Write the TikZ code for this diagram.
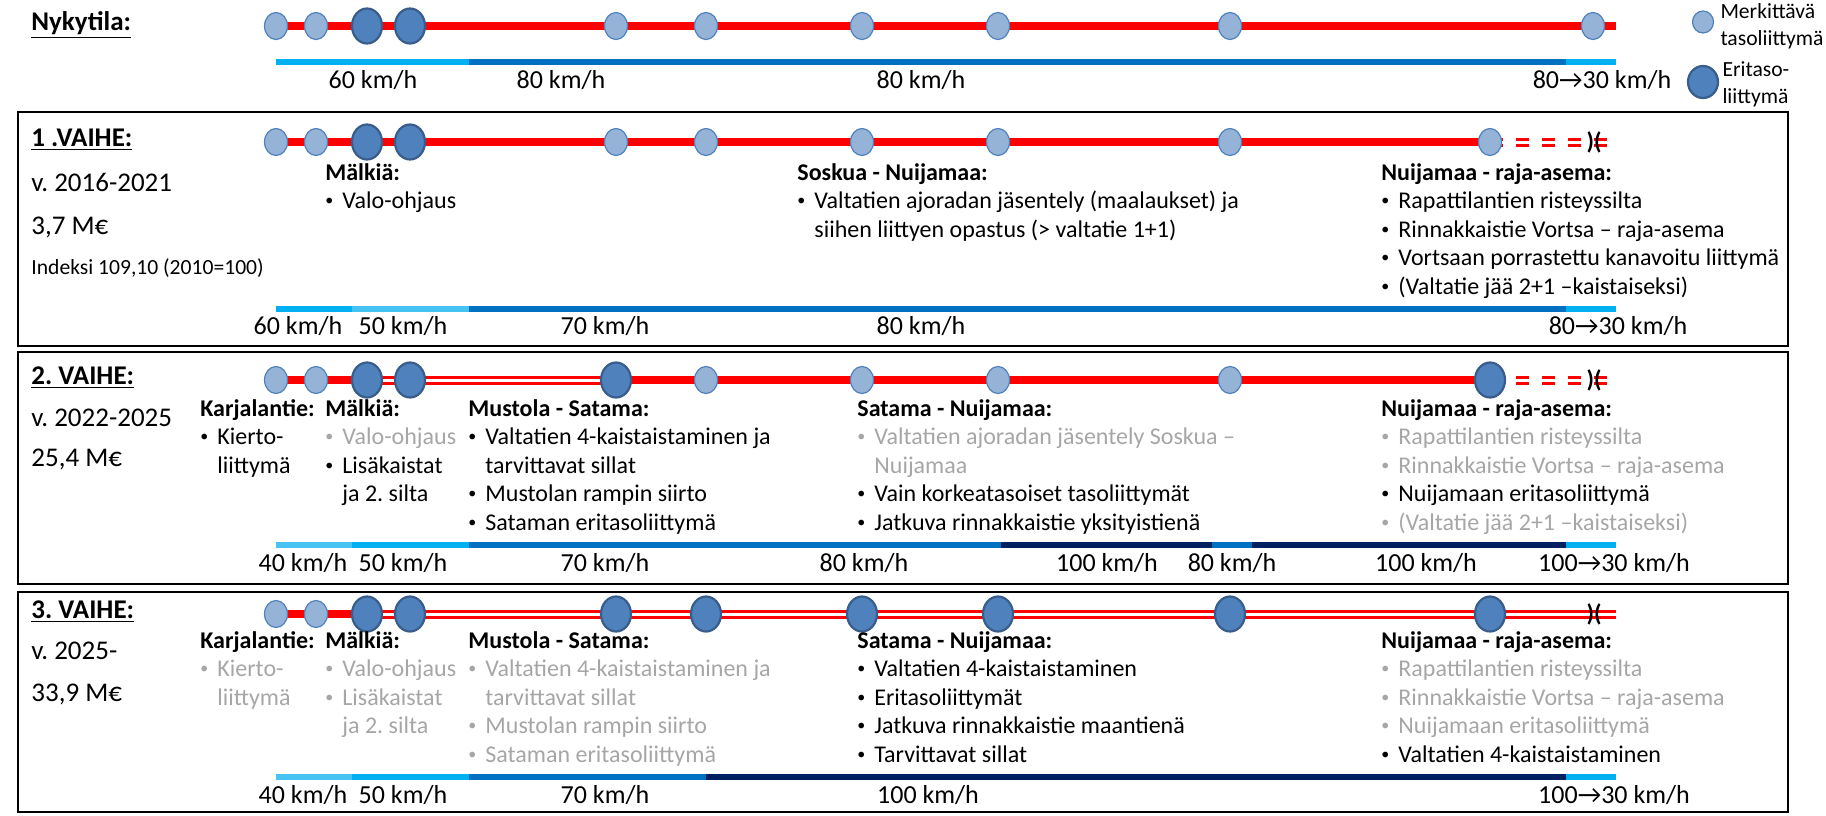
\documentclass[tikz,border=0pt]{standalone}
\usepackage{fontspec}
\setmainfont{Carlito}
\usetikzlibrary{shapes.geometric, positioning, backgrounds}
\frenchspacing

\definecolor{roadred}{HTML}{FF0000}
\definecolor{skyblue}{HTML}{00B0F0}
\definecolor{paleblue}{HTML}{45C3F2}
\definecolor{midblue}{HTML}{0070C0}
\definecolor{navyblue}{HTML}{002060}
\definecolor{jctlight}{HTML}{95B3D7}
\definecolor{jctlightedge}{HTML}{4F81BD}
\definecolor{jctdark}{HTML}{4F81BD}
\definecolor{jctdarkedge}{HTML}{385D8A}
\definecolor{txtgray}{HTML}{A6A6A6}

\newcommand{\bu}{\makebox[8.5pt][l]{\raisebox{0.12em}{\fontsize{8}{8}\selectfont •}}}
\newcommand{\ind}{\hspace*{8.5pt}}
\newcommand{\pale}[1]{\textcolor{txtgray}{#1}}

\begin{document}
\begin{tikzpicture}[
    x=0.5pt, y=-0.5pt,
    tjct/.style={ellipse, draw=jctlightedge, fill=jctlight, line width=0.6pt, minimum width=11.5pt, minimum height=13.5pt, inner sep=0pt},
    ejct/.style={ellipse, draw=jctdarkedge, fill=jctdark, line width=1.1pt, minimum width=15pt, minimum height=17.5pt, inner sep=0pt},
    road/.style={roadred, line width=4pt},
    road2/.style={roadred, line width=1.5pt, double=white, double distance=1.5pt},
    road2d/.style={road2, dash pattern=on 6.5pt off 6.5pt},
    speed/.style={line width=3.25pt},
    kmh/.style={anchor=mid, inner sep=0pt, font=\fontsize{13}{15}\selectfont},
    phasetitle/.style={anchor=mid west, inner sep=0pt, font=\bfseries\fontsize{13.5}{15}\selectfont},
    costtxt/.style={anchor=mid west, inner sep=0pt, font=\fontsize{13.5}{15}\selectfont},
    block/.style={anchor=north west, align=left, inner sep=0pt, font=\fontsize{12}{14.25}\selectfont},
    legtxt/.style={align=left, inner sep=0pt, font=\fontsize{10.8}{13.5}\selectfont},
    bridgesym/.style={inner sep=0pt, font=\bfseries\fontsize{12}{12}\selectfont},
    phasebox/.style={draw, line width=1.2pt}
]
    \useasboundingbox (0,0) rectangle (1826,815);

    % Legend
    \node[tjct, minimum width=10.5pt, minimum height=11pt] (legt) at (1703,22) {};
    \node[legtxt, right=3pt of legt, yshift=-2pt] (legttxt) {Merkittävä\\tasoliittymä};
    \node[ejct, minimum width=15pt, minimum height=16pt] (lege) at (1703,82) {};
    \node[legtxt, right=1.5pt of lege, yshift=-1pt] (legetxt) {Eritaso-\\liittymä};

    % Nykytila
    \node[phasetitle] (nyktitle) at (31,26) {\underline{Nykytila:}};
    \node[tjct] (nyk1) at (276,26) {};
    \node[tjct] (nyk2) at (316,26) {};
    \node[ejct] (nyk3) at (367,26) {};
    \node[ejct] (nyk4) at (410,26) {};
    \node[tjct] (nyk5) at (616,26) {};
    \node[tjct] (nyk6) at (706,26) {};
    \node[tjct] (nyk7) at (862,26) {};
    \node[tjct] (nyk8) at (998,26) {};
    \node[tjct] (nyk9) at (1230,26) {};
    \node[tjct] (nyk10) at (1593,26) {};
    \coordinate (nykend) at (1616,26);
    \begin{scope}[on background layer]
        \draw[road] (nyk1.center) -- (nykend);
    \end{scope}
    \draw[speed, skyblue] (276,62) -- (469,62);
    \draw[speed, midblue] (469,62) -- (706,62);
    \draw[speed, midblue] (706,62) -- (1566,62);
    \draw[speed, skyblue] (1566,62) -- (1616,62);
    \node[kmh] (nykv1) at (373,84) {60 km/h};
    \node[kmh] (nykv2) at (561,84) {80 km/h};
    \node[kmh] (nykv3) at (921,84) {80 km/h};
    \node[kmh] (nykv4) at (1602,84) {80→30 km/h};

    % 1. vaihe
    \draw[phasebox] (18,112) rectangle (1788,346);
    \node[phasetitle] (v1title) at (31,142) {\underline{1 .VAIHE:}};
    \node[costtxt] (v1years) at (31,187) {v. 2016-2021};
    \node[costtxt] (v1cost) at (31,230) {3,7 M€};
    \node[costtxt, font=\fontsize{10.8}{12}\selectfont] (v1index) at (31,270) {Indeksi 109,10 (2010=100)};
    \node[tjct] (v1j1) at (276,142) {};
    \node[tjct] (v1j2) at (316,142) {};
    \node[ejct] (v1j3) at (367,142) {};
    \node[ejct] (v1j4) at (410,142) {};
    \node[tjct] (v1j5) at (616,142) {};
    \node[tjct] (v1j6) at (706,142) {};
    \node[tjct] (v1j7) at (862,142) {};
    \node[tjct] (v1j8) at (998,142) {};
    \node[tjct] (v1j9) at (1230,142) {};
    \node[tjct] (v1j10) at (1490,142) {};
    \coordinate (v1end) at (1610,142);
    \begin{scope}[on background layer]
        \draw[road] (v1j1.center) -- (v1j10.center);
        \draw[road2d] (v1j10.center) -- (v1end);
    \end{scope}
    \node[bridgesym] (v1bridge) at (1594,142) {)(};
    \draw[speed, skyblue] (276,309) -- (352,309);
    \draw[speed, paleblue] (352,309) -- (469,309);
    \draw[speed, midblue] (469,309) -- (706,309);
    \draw[speed, midblue] (706,309) -- (1566,309);
    \draw[speed, skyblue] (1566,309) -- (1616,309);
    \node[kmh] (v1v1) at (298,330) {60 km/h};
    \node[kmh] (v1v2) at (403,330) {50 km/h};
    \node[kmh] (v1v3) at (605,330) {70 km/h};
    \node[kmh] (v1v4) at (921,330) {80 km/h};
    \node[kmh] (v1v5) at (1618,330) {80→30 km/h};
    \node[block] (v1malkia) at (325,163) {\textbf{Mälkiä:}\\ \bu Valo-ohjaus};
    \node[block] (v1soskua) at (797,163) {\textbf{Soskua - Nuijamaa:}\\
        \bu Valtatien ajoradan jäsentely (maalaukset) ja\\
        \ind siihen liittyen opastus (> valtatie 1+1)};
    \node[block] (v1raja) at (1381,163) {\textbf{Nuijamaa - raja-asema:}\\
        \bu Rapattilantien risteyssilta\\
        \bu Rinnakkaistie Vortsa – raja-asema\\
        \bu Vortsaan porrastettu kanavoitu liittymä\\
        \bu (Valtatie jää 2+1 –kaistaiseksi)};

    % 2. vaihe
    \draw[phasebox] (18,352) rectangle (1788,584);
    \node[phasetitle] (v2title) at (31,380) {\underline{2. VAIHE:}};
    \node[costtxt] (v2years) at (31,422) {v. 2022-2025};
    \node[costtxt] (v2cost) at (31,462) {25,4 M€};
    \node[tjct] (v2j1) at (276,380) {};
    \node[tjct] (v2j2) at (316,380) {};
    \node[ejct] (v2j3) at (367,380) {};
    \node[ejct] (v2j4) at (410,380) {};
    \node[ejct] (v2j5) at (616,380) {};
    \node[tjct] (v2j6) at (706,380) {};
    \node[tjct] (v2j7) at (862,380) {};
    \node[tjct] (v2j8) at (998,380) {};
    \node[tjct] (v2j9) at (1230,380) {};
    \node[ejct] (v2j10) at (1490,380) {};
    \coordinate (v2end) at (1610,380);
    \begin{scope}[on background layer]
        \draw[road] (v2j1.center) -- (v2j3.center);
        \draw[road2] (v2j3.center) -- (v2j5.center);
        \draw[road] (v2j5.center) -- (v2j10.center);
        \draw[road2d] (v2j10.center) -- (v2end);
    \end{scope}
    \node[bridgesym] (v2bridge) at (1594,380) {)(};
    \draw[speed, paleblue] (276,545) -- (352,545);
    \draw[speed, skyblue] (352,545) -- (469,545);
    \draw[speed, midblue] (469,545) -- (706,545);
    \draw[speed, midblue] (706,545) -- (1001,545);
    \draw[speed, navyblue] (1001,545) -- (1212,545);
    \draw[speed, midblue] (1212,545) -- (1252,545);
    \draw[speed, navyblue] (1252,545) -- (1566,545);
    \draw[speed, skyblue] (1566,545) -- (1616,545);
    \node[kmh] (v2v1) at (303,567) {40 km/h};
    \node[kmh] (v2v2) at (403,567) {50 km/h};
    \node[kmh] (v2v3) at (605,567) {70 km/h};
    \node[kmh] (v2v4) at (864,567) {80 km/h};
    \node[kmh] (v2v5) at (1107,567) {100 km/h};
    \node[kmh] (v2v6) at (1232,567) {80 km/h};
    \node[kmh] (v2v7) at (1426,567) {100 km/h};
    \node[kmh] (v2v8) at (1614,567) {100→30 km/h};
    \node[block] (v2karjala) at (200,399) {\textbf{Karjalantie:}\\ \bu Kierto-\\ \ind liittymä};
    \node[block] (v2malkia) at (325,399) {\textbf{Mälkiä:}\\
        \pale{\bu Valo-ohjaus}\\
        \bu Lisäkaistat\\
        \ind ja 2. silta};
    \node[block] (v2mustola) at (468,399) {\textbf{Mustola - Satama:}\\
        \bu Valtatien 4-kaistaistaminen ja\\
        \ind tarvittavat sillat\\
        \bu Mustolan rampin siirto\\
        \bu Sataman eritasoliittymä};
    \node[block] (v2satama) at (857,399) {\textbf{Satama - Nuijamaa:}\\
        \pale{\bu Valtatien ajoradan jäsentely Soskua –}\\
        \pale{\ind Nuijamaa}\\
        \bu Vain korkeatasoiset tasoliittymät\\
        \bu Jatkuva rinnakkaistie yksityistienä};
    \node[block] (v2raja) at (1381,399) {\textbf{Nuijamaa - raja-asema:}\\
        \pale{\bu Rapattilantien risteyssilta}\\
        \pale{\bu Rinnakkaistie Vortsa – raja-asema}\\
        \bu Nuijamaan eritasoliittymä\\
        \pale{\bu (Valtatie jää 2+1 –kaistaiseksi)}};

    % 3. vaihe
    \draw[phasebox] (18,592) rectangle (1788,812);
    \node[phasetitle] (v3title) at (31,614) {\underline{3. VAIHE:}};
    \node[costtxt] (v3years) at (31,655) {v. 2025-};
    \node[costtxt] (v3cost) at (31,697) {33,9 M€};
    \node[tjct] (v3j1) at (276,614) {};
    \node[tjct] (v3j2) at (316,614) {};
    \node[ejct] (v3j3) at (367,614) {};
    \node[ejct] (v3j4) at (410,614) {};
    \node[ejct] (v3j5) at (616,614) {};
    \node[ejct] (v3j6) at (706,614) {};
    \node[ejct] (v3j7) at (862,614) {};
    \node[ejct] (v3j8) at (998,614) {};
    \node[ejct] (v3j9) at (1230,614) {};
    \node[ejct] (v3j10) at (1490,614) {};
    \coordinate (v3end) at (1616,614);
    \begin{scope}[on background layer]
        \draw[road] (v3j1.center) -- (v3j3.center);
        \draw[road2] (v3j3.center) -- (v3end);
    \end{scope}
    \node[bridgesym] (v3bridge) at (1594,614) {)(};
    \draw[speed, paleblue] (276,777) -- (352,777);
    \draw[speed, skyblue] (352,777) -- (469,777);
    \draw[speed, midblue] (469,777) -- (706,777);
    \draw[speed, navyblue] (706,777) -- (1566,777);
    \draw[speed, skyblue] (1566,777) -- (1616,777);
    \node[kmh] (v3v1) at (303,799) {40 km/h};
    \node[kmh] (v3v2) at (403,799) {50 km/h};
    \node[kmh] (v3v3) at (605,799) {70 km/h};
    \node[kmh] (v3v4) at (928,799) {100 km/h};
    \node[kmh] (v3v5) at (1614,799) {100→30 km/h};
    \node[block] (v3karjala) at (200,631) {\textbf{Karjalantie:}\\
        \pale{\bu Kierto-}\\
        \pale{\ind liittymä}};
    \node[block] (v3malkia) at (325,631) {\textbf{Mälkiä:}\\
        \pale{\bu Valo-ohjaus}\\
        \pale{\bu Lisäkaistat}\\
        \pale{\ind ja 2. silta}};
    \node[block] (v3mustola) at (468,631) {\textbf{Mustola - Satama:}\\
        \pale{\bu Valtatien 4-kaistaistaminen ja}\\
        \pale{\ind tarvittavat sillat}\\
        \pale{\bu Mustolan rampin siirto}\\
        \pale{\bu Sataman eritasoliittymä}};
    \node[block] (v3satama) at (857,631) {\textbf{Satama - Nuijamaa:}\\
        \bu Valtatien 4-kaistaistaminen\\
        \bu Eritasoliittymät\\
        \bu Jatkuva rinnakkaistie maantienä\\
        \bu Tarvittavat sillat};
    \node[block] (v3raja) at (1381,631) {\textbf{Nuijamaa - raja-asema:}\\
        \pale{\bu Rapattilantien risteyssilta}\\
        \pale{\bu Rinnakkaistie Vortsa – raja-asema}\\
        \pale{\bu Nuijamaan eritasoliittymä}\\
        \bu Valtatien 4-kaistaistaminen};
\end{tikzpicture}
\end{document}
